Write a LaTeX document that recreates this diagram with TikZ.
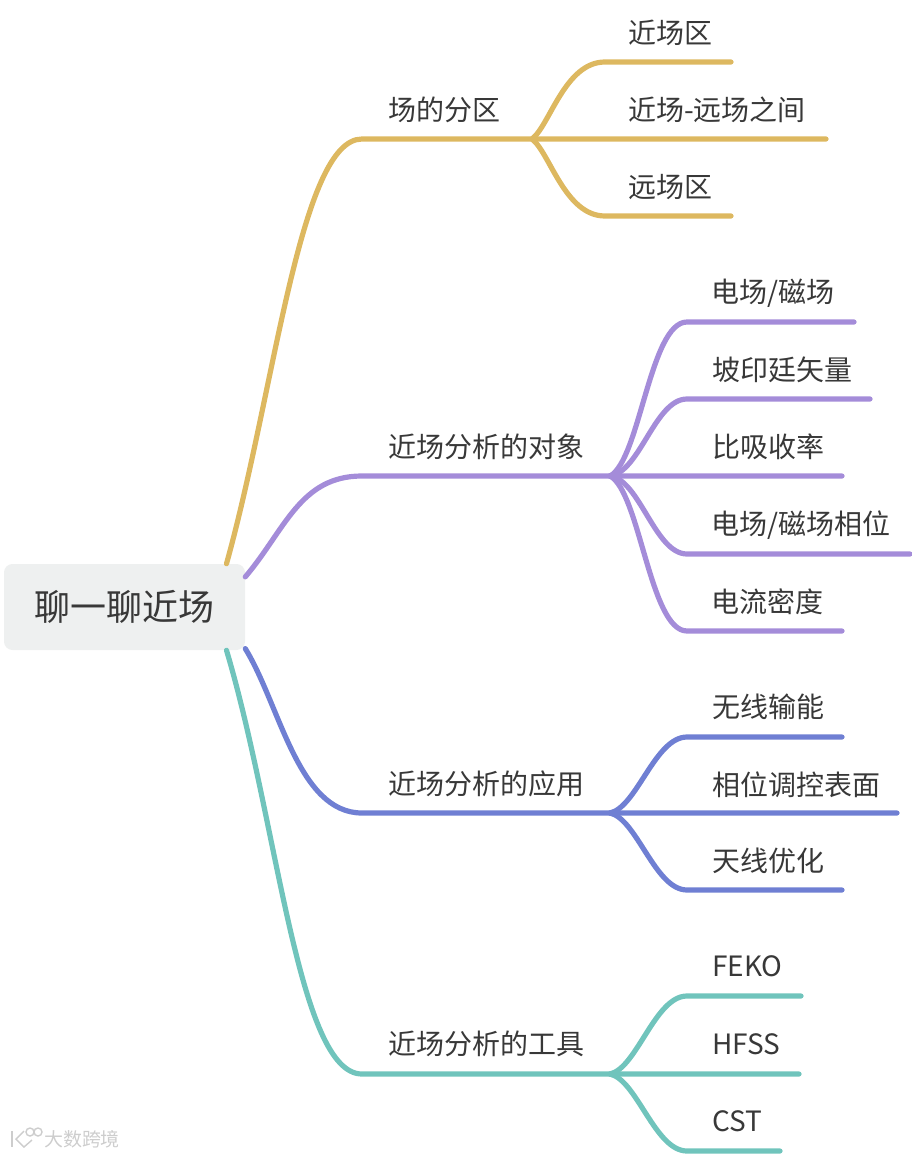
\documentclass[tikz,border=0pt]{standalone}
\usepackage{fontspec}
\setmainfont{Noto Sans CJK SC}
\usepackage{xcolor}
\definecolor{mmyellow}{RGB}{221,184,96}
\definecolor{mmpurple}{RGB}{164,140,217}
\definecolor{mmblue}{RGB}{111,127,211}
\definecolor{mmteal}{RGB}{112,196,188}
\definecolor{mmroot}{RGB}{238,240,240}
\definecolor{mmtext}{RGB}{56,56,56}
\definecolor{mmmark}{RGB}{205,205,205}
\usetikzlibrary{positioning}
\tikzset{
  rootbox/.style={fill=mmroot, rounded corners=6pt, minimum width=241*0.025cm, minimum height=86*0.025cm, inner sep=0pt, font=\fontsize{25.6}{30}\selectfont, text=mmtext},
  leaflabel/.style={anchor=west, inner sep=0pt, font=\fontsize{19.9}{24}\selectfont, text=mmtext},
  branch/.style={line width=3.7pt, line cap=round},
}
\begin{document}
\begin{tikzpicture}[x=0.025cm, y=-0.025cm]
  \useasboundingbox (0,0) rectangle (912,1156);
  % Root
  \node[rootbox] (root) at (124.5,607) {聊一聊近场};

  % --- Zones ---
  \node[leaflabel] (zones) at (388,110) {场的分区};
  \node[leaflabel] (zoneNear) at (628,33) {近场区};
  \node[leaflabel] (zoneMid) at (628,110) {近场-远场之间};
  \node[leaflabel] (zoneFar) at (628,187) {远场区};
  \coordinate (zonesStart) at (362,139);
  \coordinate (zonesFork) at (532,139);
  \coordinate (zoneNearBend) at (605,62);
  \coordinate (zoneNearEnd) at (731,62);
  \coordinate (zoneMidEnd) at (826,139);
  \coordinate (zoneFarBend) at (605,216);
  \coordinate (zoneFarEnd) at (731,216);
  \draw[branch, mmyellow] (root.23) .. controls (275,390) and (300,139) .. (zonesStart) -- (zoneMidEnd);
  \draw[branch, mmyellow] (zonesFork) .. controls (550,125) and (565,62) .. (zoneNearBend) -- (zoneNearEnd);
  \draw[branch, mmyellow] (zonesFork) .. controls (550,153) and (565,216) .. (zoneFarBend) -- (zoneFarEnd);

  % --- Objects ---
  \node[leaflabel] (objects) at (388,447) {近场分析的对象};
  \node[leaflabel] (objField) at (711,293) {电场/磁场};
  \node[leaflabel] (objPoynting) at (712,370) {坡印廷矢量};
  \node[leaflabel] (objSar) at (712,447) {比吸收率};
  \node[leaflabel] (objPhase) at (711,525) {电场/磁场相位};
  \node[leaflabel] (objCurrent) at (711,602) {电流密度};
  \coordinate (objectsStart) at (362,476);
  \coordinate (objectsFork) at (610,476);
  \coordinate (objFieldBend) at (687,322);
  \coordinate (objFieldEnd) at (854,322);
  \coordinate (objPoyntingBend) at (687,399);
  \coordinate (objPoyntingEnd) at (870,399);
  \coordinate (objSarEnd) at (842,476);
  \coordinate (objPhaseBend) at (687,554);
  \coordinate (objPhaseEnd) at (910,554);
  \coordinate (objCurrentBend) at (687,631);
  \coordinate (objCurrentEnd) at (842,631);
  \draw[branch, mmpurple] (root.14) .. controls (285,530) and (300,476) .. (objectsStart) -- (objSarEnd);
  \draw[branch, mmpurple] (objectsFork) .. controls (640,460) and (650,322) .. (objFieldBend) -- (objFieldEnd);
  \draw[branch, mmpurple] (objectsFork) .. controls (640,472) and (655,399) .. (objPoyntingBend) -- (objPoyntingEnd);
  \draw[branch, mmpurple] (objectsFork) .. controls (640,480) and (655,554) .. (objPhaseBend) -- (objPhaseEnd);
  \draw[branch, mmpurple] (objectsFork) .. controls (640,492) and (650,631) .. (objCurrentBend) -- (objCurrentEnd);

  % --- Applications ---
  \node[leaflabel] (uses) at (388,784) {近场分析的应用};
  \node[leaflabel] (useWireless) at (712,707) {无线输能};
  \node[leaflabel] (useSurface) at (712,785) {相位调控表面};
  \node[leaflabel] (useAntenna) at (712,861) {天线优化};
  \coordinate (usesStart) at (362,813);
  \coordinate (usesFork) at (610,813);
  \coordinate (useWirelessBend) at (687,737);
  \coordinate (useWirelessEnd) at (842,737);
  \coordinate (useSurfaceEnd) at (897,813);
  \coordinate (useAntennaBend) at (687,890);
  \coordinate (useAntennaEnd) at (842,890);
  \draw[branch, mmblue] (root.-19) .. controls (280,705) and (298,813) .. (usesStart) -- (useSurfaceEnd);
  \draw[branch, mmblue] (usesFork) .. controls (637,807) and (655,737) .. (useWirelessBend) -- (useWirelessEnd);
  \draw[branch, mmblue] (usesFork) .. controls (637,819) and (655,890) .. (useAntennaBend) -- (useAntennaEnd);

  % --- Tools ---
  \node[leaflabel] (tools) at (388,1044) {近场分析的工具};
  \node[leaflabel] (toolFeko) at (712,966) {FEKO};
  \node[leaflabel] (toolHfss) at (712,1044) {HFSS};
  \node[leaflabel] (toolCst) at (712,1121) {CST};
  \coordinate (toolsStart) at (362,1074);
  \coordinate (toolsFork) at (610,1074);
  \coordinate (toolFekoBend) at (687,996);
  \coordinate (toolFekoEnd) at (801,996);
  \coordinate (toolHfssEnd) at (799,1074);
  \coordinate (toolCstBend) at (687,1151);
  \coordinate (toolCstEnd) at (780,1151);
  \draw[branch, mmteal] (root.-23) .. controls (278,823) and (298,1074) .. (toolsStart) -- (toolHfssEnd);
  \draw[branch, mmteal] (toolsFork) .. controls (637,1068) and (655,996) .. (toolFekoBend) -- (toolFekoEnd);
  \draw[branch, mmteal] (toolsFork) .. controls (637,1080) and (655,1151) .. (toolCstBend) -- (toolCstEnd);

  % Watermark
  \draw[mmmark, line width=1pt] (12,1131) -- (12,1147);
  \draw[mmmark, line width=1pt] (24,1131) -- (16,1139) -- (24,1147) -- (32,1140);
  \draw[mmmark, line width=1pt] (30,1132) circle (4);
  \draw[mmmark, line width=1pt] (38,1132) circle (4);
  \node[inner sep=0pt, font=\fontsize{13.5}{16}\selectfont, text=mmmark] (mark) at (82,1139) {大数跨境};
\end{tikzpicture}
\end{document}
